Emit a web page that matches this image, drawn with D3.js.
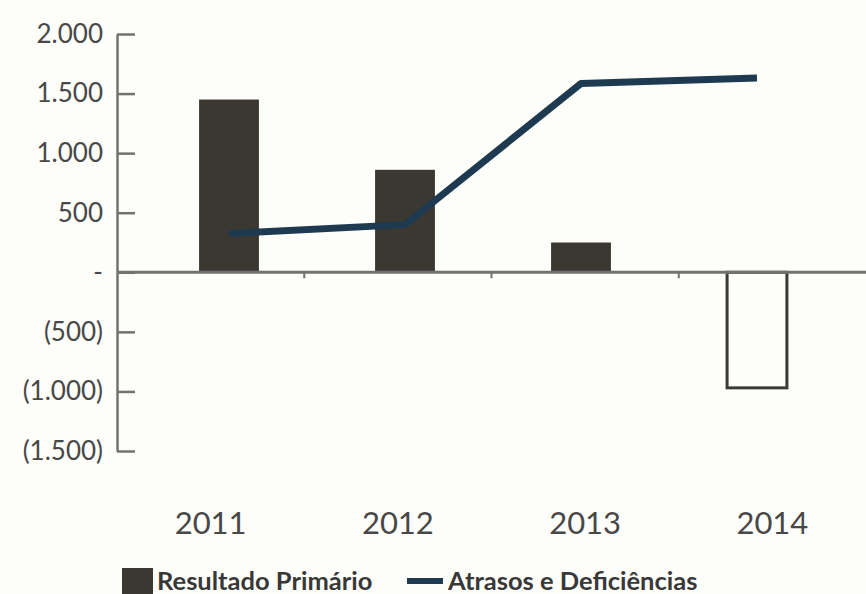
<!DOCTYPE html>
<html>
<head>
<meta charset="utf-8">
<script src="https://cdn.jsdelivr.net/npm/d3@7"></script>
<style>
  html, body { margin: 0; padding: 0; background: #fdfdf9; }
  svg { display: block; font-family: Lato, "Open Sans", sans-serif; }
</style>
</head>
<body>
<svg id="chart" width="866" height="594"></svg>
<script>
const years = ["2011", "2012", "2013", "2014"];
const resultadoPrimario = [1450, 860, 250, -970];
const atrasosDeficiencias = [325, 400, 1585, 1630];
const yTickValues = [2000, 1500, 1000, 500, 0, -500, -1000, -1500];
const yTickLabels = ["2.000", "1.500", "1.000", "500", "-", "(500)", "(1.000)", "(1.500)"];
const legendLabels = ["Resultado Primário", "Atrasos e Deficiências"];

const svg = d3.select("#chart");
svg.append("rect").attr("width", 866).attr("height", 594).attr("fill", "#fdfdf9");

const axisColor = "#727272";
const textColor = "#484848";
const barColor = "#3b3832";
const lineColor = "#1d3a50";

const y = d3.scaleLinear().domain([-1500, 2000]).range([451, 34]);
const x = d3.scaleBand().domain(years).range([117, 866]);
const xBar = d3.scaleBand().domain(years).range([141, 845]).paddingInner(0.66).paddingOuter(0.33);

// Y axis
const yAxis = d3.axisLeft(y)
  .tickValues(yTickValues)
  .tickFormat((d, i) => yTickLabels[i])
  .tickSizeInner(-18)
  .tickSizeOuter(0)
  .tickPadding(14);
const gy = svg.append("g").attr("transform", "translate(117,0)").call(yAxis);
gy.select(".domain").attr("stroke", axisColor).attr("stroke-width", 2.5);
gy.selectAll(".tick line").attr("stroke", axisColor).attr("stroke-width", 2.5);
gy.selectAll(".tick text")
  .attr("fill", textColor)
  .style("font-size", "26px")
  .style("font-family", "Lato, 'Open Sans', sans-serif");

// Bars
svg.append("g").selectAll("rect")
  .data(years)
  .join("rect")
  .attr("x", d => xBar(d))
  .attr("width", xBar.bandwidth())
  .attr("y", (d, i) => y(Math.max(0, resultadoPrimario[i])))
  .attr("height", (d, i) => Math.abs(y(resultadoPrimario[i]) - y(0)))
  .attr("fill", (d, i) => resultadoPrimario[i] < 0 ? "#fdfdf9" : barColor)
  .attr("stroke", (d, i) => resultadoPrimario[i] < 0 ? "#3a3a3a" : "none")
  .attr("stroke-width", 3);

// Zero line with category separator ticks
svg.append("line")
  .attr("x1", x.range()[0]).attr("x2", x.range()[1])
  .attr("y1", y(0)).attr("y2", y(0))
  .attr("stroke", axisColor).attr("stroke-width", 3);
svg.append("g").selectAll("line")
  .data(years.slice(1))
  .join("line")
  .attr("x1", d => x(d)).attr("x2", d => x(d))
  .attr("y1", y(0)).attr("y2", y(0) + 6)
  .attr("stroke", axisColor).attr("stroke-width", 2);

// Line series
const line = d3.line()
  .x((d, i) => xBar(years[i]) + xBar.bandwidth() / 2)
  .y(d => y(d));
svg.append("path")
  .datum(atrasosDeficiencias)
  .attr("d", line)
  .attr("fill", "none")
  .attr("stroke", lineColor)
  .attr("stroke-width", 7)
  .attr("stroke-linejoin", "round");

// X labels
svg.append("g").selectAll("text")
  .data(years)
  .join("text")
  .attr("x", d => x(d) + x.bandwidth() / 2)
  .attr("y", 534)
  .attr("text-anchor", "middle")
  .attr("fill", textColor)
  .style("font-size", "31px")
  .text(d => d);

// Legend
const lg = svg.append("g");
lg.append("rect").attr("x", 122).attr("y", 568).attr("width", 31).attr("height", 26).attr("fill", barColor);
lg.append("text").attr("x", 157).attr("y", 590).attr("fill", "#383838")
  .style("font-size", "25.5px").style("font-weight", "bold").text(legendLabels[0]);
lg.append("line").attr("x1", 407).attr("x2", 443).attr("y1", 581).attr("y2", 581)
  .attr("stroke", lineColor).attr("stroke-width", 6);
lg.append("text").attr("x", 448).attr("y", 590).attr("fill", "#383838")
  .style("font-size", "25.5px").style("font-weight", "bold").text(legendLabels[1]);
</script>
</body>
</html>
